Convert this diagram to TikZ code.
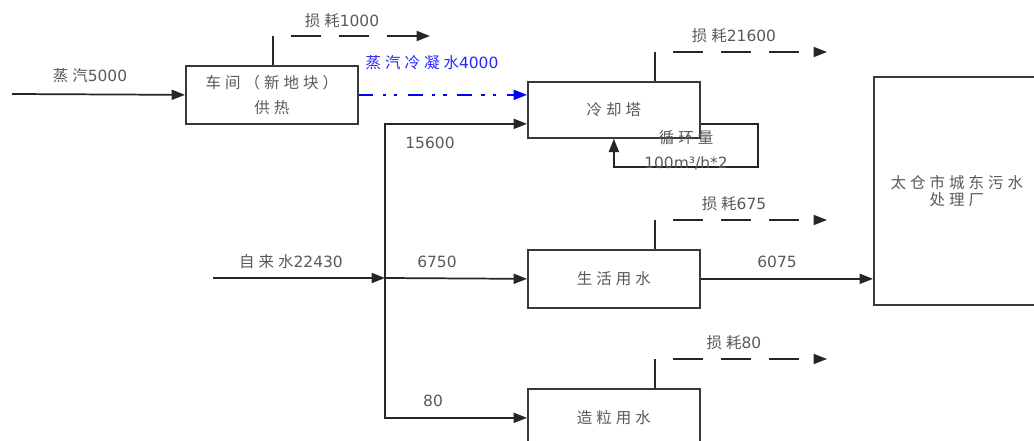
\documentclass[tikz,border=0pt]{standalone}
\usepackage{fontspec}
\setmainfont{DejaVu Sans}
\newfontfamily\zhfont[LetterSpace=26]{Noto Sans CJK SC}
\newcommand\zh[1]{{\zhfont #1}}
\usetikzlibrary{arrows.meta,calc}

\tikzset{
    unit/.style={draw=black!78,line width=1.3pt,anchor=north west,inner sep=0pt,
        align=center,minimum width=129pt,minimum height=43.5pt},
    pipe/.style={draw=black!85,line width=1.3pt},
    flow/.style={pipe,-{Triangle[length=10pt,width=7.5pt]}},
    loss/.style={flow,dash pattern=on 22.5pt off 13.5pt},
    condense/.style={flow,draw=blue,
        dash pattern=on 11pt off 7pt on 2.5pt off 6pt on 2.5pt off 8pt},
}

\begin{document}
\begin{tikzpicture}[x=0.75pt,y=-0.75pt,
    every node/.style={font=\fontsize{11.6}{18.75}\selectfont,text=black!65}]
    \useasboundingbox (0,0) rectangle (1034,441);
    \fill[white] (0,0) rectangle (1034,441);
    \clip (0,0) rectangle (1034,441);

    % units
    \node[unit] (shop) at (185,65) {\zh{车间（新地块）}\\\zh{供热}};
    \node[unit,minimum height=42pt] (tower) at (527,81) {\zh{冷却塔}};
    \node[unit] (domestic) at (527,249) {\zh{生活用水}};
    \node[unit] (granul) at (527,388) {\zh{造粒用水}};
    \node[unit,minimum width=124.5pt,minimum height=171pt,
        font=\fontsize{11.6}{12.75}\selectfont] (plant) at (873,76)
        {\zh{太仓市城东污水}\\\zh{处理厂}};

    % steam to the workshop
    \coordinate (steamin) at (12,94);
    \draw[flow] (steamin) -- (shop.west);
    \node (steamlbl) at (90,76) {\zh{蒸汽}5000};
    \coordinate (shop-stub) at (273,36);
    \draw[pipe] (shop-stub |- shop.north) -- (shop-stub);
    \draw[loss] ($(shop-stub)+(18,0)$) -- ($(shop-stub)+(157,0)$);
    \node (shoplbl) at (342,21) {\zh{损耗}1000};
    \draw[condense] (shop.east) -- (shop.east -| tower.west);
    \node[text=blue!85] (condlbl) at (432,63) {\zh{蒸汽冷凝水}4000};

    % tap water split
    \coordinate (tapin) at (213,278);
    \coordinate (split) at (385,278);
    \draw[flow] (tapin) -- (split);
    \node (taplbl) at (291,262) {\zh{自来水}22430};
    \draw[flow] (split) |- ($(tower.west)+(0,14)$);
    \draw[flow] (split) -- (domestic.west);
    \draw[flow] (split) |- (granul.west);
    \node (towerlbl) at (430,143) {15600};
    \node (domlbl) at (437,262) {6750};
    \node (granlbl) at (433,401) {80};

    % losses
    \foreach \u/\v in {tower/21600,domestic/675,granul/80}{
        \coordinate (\u-stub) at ($(\u.north west)+(128,-29)$);
        \draw[pipe] (\u-stub |- \u.north) -- (\u-stub);
        \draw[loss] ($(\u-stub)+(18,0)$) -- ($(\u-stub)+(172,0)$);
        \node (\u-loss) at ($(\u-stub)+(79,-16)$) {\zh{损耗}\v};
    }

    % recirculation
    \draw[flow] ($(tower.east)+(0,14)$) -- ++(57,0)
        |- ($(tower.south)+(0,28)$) -- (tower.south);
    \node[align=center] (cyclbl) at (686,150.5) {\zh{循环量}\\100m³/h*2};

    % discharge
    \draw[flow] (domestic.east) -- (domestic.east -| plant.west);
    \node (outlbl) at (777,262) {6075};
\end{tikzpicture}
\end{document}
